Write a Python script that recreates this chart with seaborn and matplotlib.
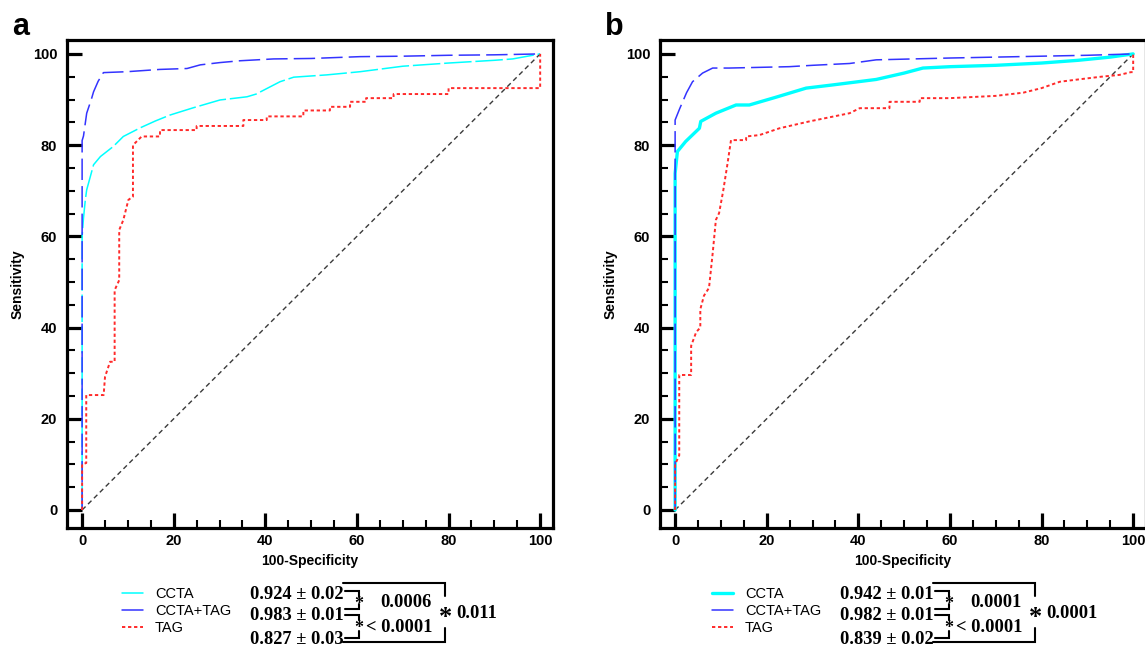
import matplotlib
matplotlib.use("Agg")
import matplotlib.pyplot as plt
from matplotlib.lines import Line2D
from matplotlib.ticker import MultipleLocator
import seaborn as sns

# ---- panel a : ROC points (100-specificity, sensitivity) ----
a_ccta_x = [0, 0, 0.3, 0.7, 1.0, 2.5, 4, 6.8, 9.0, 12.7, 16, 19.2, 24.3, 30.1, 36, 38,
            43.2, 46.2, 53.4, 60.7, 70, 80, 90, 94, 100]
a_ccta_y = [0, 60, 64, 68, 70.2, 75.7, 77.5, 79.7, 81.9, 83.8, 85.3, 86.6, 88.2, 89.9, 90.6, 91.2,
            93.9, 94.9, 95.4, 96.1, 97.3, 98, 98.6, 98.9, 100]

a_comb_x = [0, 0, 0.3, 1, 2, 2.5, 3.5, 4.65, 9.8, 17, 22.9, 25.8, 30.1, 34.5, 41.8, 50,
            60.7, 70, 80, 90, 100]
a_comb_y = [0, 81, 82, 87, 90, 91.7, 94, 95.9, 96.1, 96.6, 96.8, 97.6, 98.1, 98.5, 98.9, 99,
            99.4, 99.5, 99.7, 99.8, 100]

a_tag_x = [0, 0, 0.9, 0.9, 4.7, 5.0, 6.1, 7.1, 7.1, 8.1, 8.1, 9.0, 10.1, 11.1, 11.1, 13.0,
           17.0, 17.0, 25.0, 25.0, 35.2, 35.2, 40.3, 40.3, 48.3, 48.3, 54.1, 54.1, 58.5, 58.5,
           62, 62, 68, 68, 80, 80, 100, 100]
a_tag_y = [0, 10, 10.3, 25.2, 25.2, 29.2, 32.5, 32.5, 48.2, 50.4, 61.4, 63.6, 68, 68.7, 80, 81.9,
           81.9, 83.3, 83.3, 84.2, 84.2, 85.5, 85.5, 86.3, 86.3, 87.6, 87.6, 88.4, 88.4, 89.5,
           89.5, 90.3, 90.3, 91.2, 91.2, 92.5, 92.5, 100]

# ---- panel b ----
b_ccta_x = [0, 0, 0.5, 2.3, 5.3, 5.6, 8.9, 13.3, 16.2, 22, 28.6, 34.4, 43.9, 50, 54.1, 60,
            70, 80, 88, 95, 100]
b_ccta_y = [0, 73.8, 78.6, 80.8, 83.7, 85.2, 87, 88.8, 88.8, 90.5, 92.5, 93.2, 94.4, 95.8, 96.9, 97.2,
            97.5, 98, 98.6, 99.3, 100]

b_comb_x = [0, 0, 1, 2.5, 3.8, 6, 8.2, 11.8, 24.9, 30, 38.1, 43.9, 60, 70, 80, 90, 100]
b_comb_y = [0, 85.5, 88, 91.5, 93.9, 95.8, 96.9, 96.9, 97.2, 97.5, 97.9, 98.7, 99.1, 99.3, 99.5, 99.7, 100]

b_tag_x = [0, 0, 0.9, 0.9, 3.5, 3.5, 4.6, 5.5, 5.5, 6.3, 7.4, 8.2, 8.9, 9.6, 10.5, 11.4, 12.2,
           15.5, 15.5, 18.4, 22.8, 29.3, 38.1, 40.3, 46.8, 46.8, 53.4, 53.4, 60, 70, 76, 80,
           84, 88, 93, 97, 99.5, 100, 100]
b_tag_y = [0, 10, 12, 29.6, 29.6, 36, 39, 40, 44, 47, 48.7, 56.3, 63.6, 65.1, 70, 75.7, 81.1,
           81.1, 81.9, 82.2, 83.7, 85.2, 87, 88.1, 88.1, 89.5, 89.5, 90.3, 90.3, 90.8, 91.5, 92.5,
           93.9, 94.4, 95, 95.4, 96, 96, 100]

series_labels = ["CCTA", "CCTA+TAG", "TAG"]
a_auc = ["0.924 ± 0.02", "0.983 ± 0.01", "0.827 ± 0.03"]
b_auc = ["0.942 ± 0.01", "0.982 ± 0.01", "0.839 ± 0.02"]
a_p = ["0.0006", "< 0.0001", "0.011"]
b_p = ["0.0001", "< 0.0001", "0.0001"]

CYAN, BLUE, RED = "#00ffff", "#3333ff", "#ff2a2a"

sns.set_theme(style="white")
plt.rcParams["font.family"] = ["Liberation Sans", "DejaVu Sans"]
plt.rcParams.update({"text.color": "black", "axes.labelcolor": "black",
                     "xtick.color": "black", "ytick.color": "black"})

W, H = 1145, 647
fig = plt.figure(figsize=(W / 100, H / 100), dpi=100)


def fx(px):
    return px / W


def fy(py):
    return 1 - py / H


def setup_axes(ax):
    ax.set_xlim(-3.3, 102.8)
    ax.set_ylim(-3.95, 103.05)
    ax.xaxis.set_major_locator(MultipleLocator(20))
    ax.xaxis.set_minor_locator(MultipleLocator(5))
    ax.yaxis.set_major_locator(MultipleLocator(20))
    ax.yaxis.set_minor_locator(MultipleLocator(5))
    ax.tick_params(which="both", direction="in", top=False, right=False,
                   bottom=True, left=True, color="black", labelcolor="black")
    ax.tick_params(which="major", length=10.8, width=2.3)
    ax.tick_params(which="minor", length=5.8, width=1.5)
    ax.tick_params(axis="y", which="major", pad=7)
    ax.tick_params(axis="x", which="major", pad=4)
    for lab in ax.get_xticklabels() + ax.get_yticklabels():
        lab.set_fontweight("bold")
        lab.set_fontsize(10.5)
    for sp in ax.spines.values():
        sp.set_color("black")
        sp.set_linewidth(2.3)
    ax.set_xlabel("100-Specificity", fontsize=10, fontweight="bold", labelpad=5, color="black")
    ax.set_ylabel("Sensitivity", fontsize=10, fontweight="bold", labelpad=6, color="black")
    ax.grid(False)


def draw_block(ax, dx, auc, pv, handles):
    # legend
    ax.legend(handles=handles, labels=series_labels, loc="upper left",
              bbox_to_anchor=(fx(122 + dx), fy(587)), bbox_transform=fig.transFigure,
              frameon=False, fontsize=10.5, handlelength=1.45, handletextpad=0.8,
              labelspacing=0.22, borderpad=0, borderaxespad=0, labelcolor="black")
    serif = ["Liberation Serif", "DejaVu Serif"]
    for txt, base in zip(auc, [599, 620, 644]):
        fig.text(fx(344 + dx), fy(base), txt, ha="right", va="baseline",
                 family=serif, fontweight="bold", fontsize=13.3)
    fig.text(fx(406 + dx), fy(607), pv[0], ha="center", va="baseline",
             family=serif, fontweight="bold", fontsize=13.3)
    fig.text(fx(399 + dx), fy(632), pv[1], ha="center", va="baseline",
             family=serif, fontweight="bold", fontsize=13.3)
    fig.text(fx(446 + dx), fy(624), "*", ha="center", va="baseline",
             family=serif, fontweight="bold", fontsize=19)
    fig.text(fx(456 + dx), fy(618), pv[2], ha="left", va="baseline",
             family=serif, fontweight="bold", fontsize=13.3)
    fig.text(fx(359 + dx), fy(609), "*", ha="center", va="baseline",
             family=serif, fontweight="bold", fontsize=13)
    fig.text(fx(359 + dx), fy(633), "*", ha="center", va="baseline",
             family=serif, fontweight="bold", fontsize=13)
    paths = [
        [(343, 583), (445, 583), (445, 596)],
        [(445, 628), (445, 642), (343, 642)],
        [(345, 591), (359, 591), (359, 597)],
        [(359, 604), (359, 609), (345, 609)],
        [(345, 615), (359, 615), (359, 620)],
        [(359, 631), (359, 637.5), (345, 637.5)],
    ]
    for p in paths:
        xs = [fx(q[0] + dx) for q in p]
        ys = [fy(q[1]) for q in p]
        fig.add_artist(Line2D(xs, ys, transform=fig.transFigure, color="black",
                              lw=1.5, solid_joinstyle="miter"))


ax_a = fig.add_axes([fx(67), fy(528), 486 / W, 488 / H])
ax_b = fig.add_axes([fx(660), fy(528), 486 / W, 488 / H])

diag = [0, 100]
for ax in (ax_a, ax_b):
    sns.lineplot(x=diag, y=diag, ax=ax, color="#3a3a3a", lw=1.0,
                 linestyle=(0, (3.5, 2.5)), sort=False, estimator=None)

# panel a
sns.lineplot(x=a_ccta_x, y=a_ccta_y, ax=ax_a, color=CYAN, lw=1.1,
             linestyle=(0, (18, 2.5)), sort=False, estimator=None)
sns.lineplot(x=a_comb_x, y=a_comb_y, ax=ax_a, color=BLUE, lw=1.1,
             linestyle=(0, (14, 4)), sort=False, estimator=None)
sns.lineplot(x=a_tag_x, y=a_tag_y, ax=ax_a, color=RED, lw=1.4,
             linestyle=(0, (1.7, 1.4)), sort=False, estimator=None)

# panel b
sns.lineplot(x=b_ccta_x, y=b_ccta_y, ax=ax_b, color=CYAN, lw=2.4,
             sort=False, estimator=None)
sns.lineplot(x=b_comb_x, y=b_comb_y, ax=ax_b, color=BLUE, lw=1.1,
             linestyle=(0, (14, 4)), sort=False, estimator=None)
sns.lineplot(x=b_tag_x, y=b_tag_y, ax=ax_b, color=RED, lw=1.4,
             linestyle=(0, (1.7, 1.4)), sort=False, estimator=None)

setup_axes(ax_a)
setup_axes(ax_b)

h_a = [Line2D([], [], color=CYAN, lw=1.1),
       Line2D([], [], color=BLUE, lw=1.1),
       Line2D([], [], color=RED, lw=1.4, linestyle=(0, (1.7, 1.4)))]
h_b = [Line2D([], [], color=CYAN, lw=2.4),
       Line2D([], [], color=BLUE, lw=1.1),
       Line2D([], [], color=RED, lw=1.4, linestyle=(0, (1.7, 1.4)))]
draw_block(ax_a, 0, a_auc, a_p, h_a)
draw_block(ax_b, 590, b_auc, b_p, h_b)

fig.text(fx(21), fy(35), "a", ha="center", va="baseline", fontsize=22, fontweight="bold")
fig.text(fx(614), fy(35), "b", ha="center", va="baseline", fontsize=22, fontweight="bold")

fig.savefig("out.png", dpi=100)
